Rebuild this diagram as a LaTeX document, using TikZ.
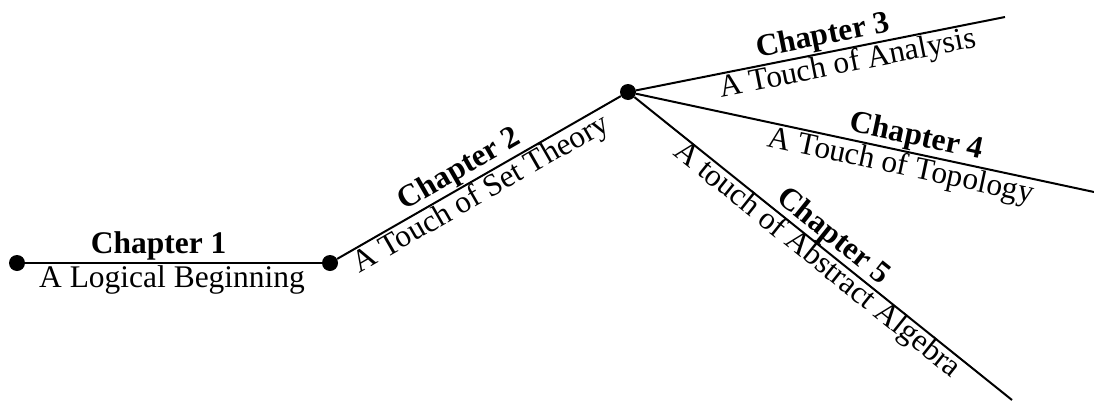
\documentclass[tikz,border=0pt]{standalone}
\usepackage{fontspec}
\setmainfont{Liberation Serif}
\usetikzlibrary{positioning}
\tikzset{
    dot/.style={circle, fill=black, inner sep=0pt, minimum size=12pt},
    chapline/.style={line width=1.5pt, draw=black},
    chaphead/.style={sloped, above, inner sep=0.5pt, font=\fontsize{23.6}{26}\selectfont\bfseries},
    chapsub/.style={sloped, below, inner sep=0.5pt, font=\fontsize{23.6}{26}\selectfont}
}
\begin{document}
\begin{tikzpicture}[x=0.75pt, y=0.75pt]
    \useasboundingbox (0,0) rectangle (1094,401);
    % the path of chapters
    \node[dot] (logic) at (17,138) {};
    \node[dot] (sets) at (330,138) {};
    \node[dot] (fork) at (628,309) {};
    \coordinate (analysis) at (1005,384);
    \coordinate (topology) at (1094,209);
    \coordinate (algebra) at (1012,1);
    \draw[chapline] (logic) -- node[chaphead, pos=0.45, inner sep=1.5pt] {Chapter 1} node[chapsub, pos=0.495, inner sep=1.5pt] {A Logical Beginning} (sets);
    \draw[chapline] (sets) -- node[chaphead, pos=0.46] {Chapter 2} node[chapsub, pos=0.48] {A Touch of Set Theory} (fork);
    \draw[chapline] (fork) -- node[chaphead, pos=0.515] {Chapter 3} node[chapsub, pos=0.565] {A Touch of Analysis} (analysis);
    \draw[chapline] (fork) -- node[chaphead, pos=0.605] {Chapter 4} node[chapsub, pos=0.585] {A Touch of Topology} (topology);
    \draw[chapline] (fork) -- node[chaphead, pos=0.5, inner sep=0pt] {Chapter 5} node[chapsub, pos=0.505, inner sep=-1.5pt] {A touch of Abstract Algebra} (algebra);
\end{tikzpicture}
\end{document}
